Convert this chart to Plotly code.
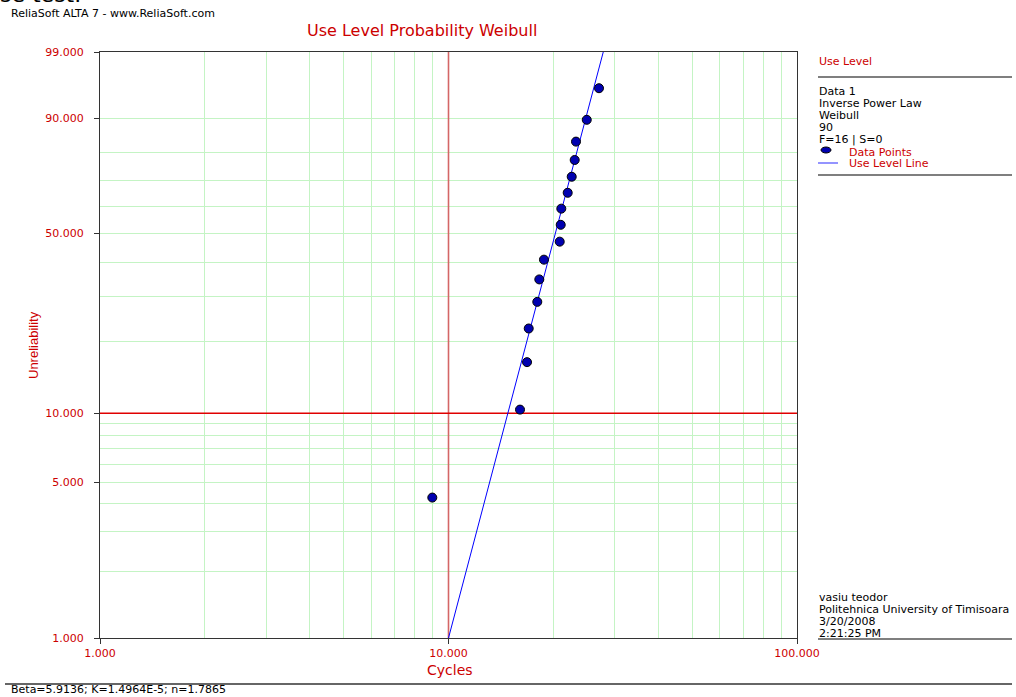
import math
import plotly.graph_objects as go

# ---- data ----
cycles = [8.985, 16.04, 16.80, 16.99, 17.98, 18.22, 18.79, 20.85,
          20.99, 21.07, 21.98, 22.57, 23.02, 23.22, 24.93, 27.03]
unreliability = [4.27, 10.37, 16.46, 22.56, 28.66, 34.76, 40.85, 46.95,
                 53.05, 59.15, 65.24, 71.34, 77.44, 83.54, 89.63, 95.73]
line_cycles = [10.0, 27.8]
line_unrel = [1.0, 99.0]

# use-level reference lines (10 cycles, 10 % unreliability)
ref_cycles = 10.0
ref_unrel = 10.0

y_ticks = [1, 5, 10, 50, 90, 99]
y_tick_text = ["1.000", "5.000", "10.000", "50.000", "90.000", "99.000"]
y_minor = [2, 3, 4, 6, 7, 8, 9, 20, 30, 40, 60, 70, 80]
x_ticks = [1, 10, 100]
x_tick_text = ["1.000", "10.000", "100.000"]
x_minor = [2, 3, 4, 5, 6, 7, 8, 9, 20, 30, 40, 50, 60, 70, 80, 90]

panel_lines = ["Data 1", "Inverse Power Law", "Weibull", "90", "F=16 | S=0"]
owner_lines = ["vasiu teodor", "Politehnica University of Timisoara", "3/20/2008", "2:21:25 PM"]


def wb(p):
    """Weibull probability scale transform (percent -> ln(-ln(1-F)))."""
    return math.log(-math.log(1 - p / 100.0))


RED = "#cc0000"
GREEN = "#c4f4c4"
FONT = "DejaVu Sans"

W, H = 1016, 697
L, R, T, B = 100, 797, 52, 638


def px(X):
    return (X - L) / (R - L)


def py(Y):
    return (B - Y) / (B - T)


fig = go.Figure()

# red reference lines as traces (under the data)
fig.add_trace(go.Scatter(
    x=[ref_cycles, ref_cycles], y=[wb(y_ticks[0]), wb(y_ticks[-1])], mode="lines",
    line=dict(color="#d46666", width=1.6), showlegend=False, hoverinfo="skip",
    cliponaxis=True))
fig.add_trace(go.Scatter(
    x=[x_ticks[0], x_ticks[-1]], y=[wb(ref_unrel), wb(ref_unrel)], mode="lines",
    line=dict(color="#e00000", width=1.3), showlegend=False, hoverinfo="skip"))

fig.add_trace(go.Scatter(
    x=line_cycles, y=[wb(v) for v in line_unrel], mode="lines",
    line=dict(color="#0000ff", width=1), showlegend=False, hoverinfo="skip"))

fig.add_trace(go.Scatter(
    x=cycles, y=[wb(v) for v in unreliability], mode="markers",
    marker=dict(symbol="circle", size=9, color="#0000b0",
                line=dict(color="#000000", width=1)),
    showlegend=False))

shapes = [
    # right panel separators
    dict(type="line", xref="paper", yref="paper", x0=px(818), x1=px(1012),
         y0=py(77), y1=py(77), line=dict(color="#555555", width=1.5)),
    dict(type="line", xref="paper", yref="paper", x0=px(818), x1=px(1012),
         y0=py(175), y1=py(175), line=dict(color="#555555", width=1.5)),
    dict(type="line", xref="paper", yref="paper", x0=px(818), x1=px(1012),
         y0=py(639), y1=py(639), line=dict(color="#555555", width=1.5)),
    dict(type="line", xref="paper", yref="paper", x0=px(5), x1=px(1012),
         y0=py(684), y1=py(684), line=dict(color="#333333", width=1.5)),
    # legend symbols
    dict(type="circle", xref="paper", yref="paper", x0=px(821), x1=px(831),
         y0=py(147), y1=py(153), fillcolor="#0000b0", line=dict(color="#000000", width=1)),
    dict(type="line", xref="paper", yref="paper", x0=px(818), x1=px(838),
         y0=py(163), y1=py(163), line=dict(color="#7070ff", width=1.5)),
]

annotations = []


def ann(text, X, Y, color="#000000", size=11, xanchor="left", yanchor="middle",
        family=FONT, textangle=0):
    annotations.append(dict(text=text, x=px(X), y=py(Y), xref="paper", yref="paper",
                            xanchor=xanchor, yanchor=yanchor, showarrow=False,
                            textangle=textangle,
                            font=dict(family=family, size=size, color=color)))


ann("se test.", -2, 9, size=22, yanchor="bottom")
ann("ReliaSoft ALTA 7 - www.ReliaSoft.com", 9, 14, size=11)
ann("Use Level Probability Weibull", 422, 30, color=RED, size=16, xanchor="center")
ann("Cycles", 450, 670, color=RED, size=14, xanchor="center")
ann("Unreliability", 33, 345, color=RED, size=13, xanchor="center",
    family="Liberation Sans", textangle=-90)
ann("Use Level", 817, 61, color=RED)
for i, t in enumerate(panel_lines):
    ann(t, 817, 91 + i * 12.2, size=11)
ann("Data Points", 847, 152, color=RED)
ann("Use Level Line", 847, 164, color=RED)
for i, t in enumerate(owner_lines):
    ann(t, 817, 597 + i * 12, size=11)
ann("Beta=5.9136; K=1.4964E-5; n=1.7865", 9, 689, size=11)

fig.update_layout(
    width=W, height=H,
    margin=dict(l=L, r=W - R, t=T, b=H - B, autoexpand=False),
    paper_bgcolor="white", plot_bgcolor="white",
    shapes=shapes, annotations=annotations,
    xaxis=dict(type="log", range=[0, 2], tickmode="array", tickvals=x_ticks,
               ticktext=x_tick_text, showgrid=True, gridcolor=GREEN, gridwidth=1,
               minor=dict(tickmode="array", tickvals=x_minor, showgrid=True,
                          gridcolor=GREEN, gridwidth=1, ticks=""),
               ticks="outside", ticklen=5, tickcolor="#333333",
               showline=True, linecolor="#333333", linewidth=1, mirror=True,
               zeroline=False,
               tickfont=dict(family=FONT, size=11, color=RED)),
    yaxis=dict(range=[wb(1), wb(99)], tickmode="array",
               tickvals=[wb(v) for v in y_ticks], ticktext=y_tick_text,
               showgrid=True, gridcolor=GREEN, gridwidth=1,
               minor=dict(tickmode="array", tickvals=[wb(v) for v in y_minor],
                          showgrid=True, gridcolor=GREEN, gridwidth=1, ticks=""),
               ticks="outside", ticklen=5, tickcolor="#333333",
               ticklabelstandoff=8,
               showline=True, linecolor="#333333", linewidth=1, mirror=True,
               zeroline=False,
               tickfont=dict(family=FONT, size=11, color=RED)),
)

fig.write_html(
    "out.html",
    config={"displayModeBar": False},
    post_script="document.body.style.margin='0';document.body.style.overflow='hidden';",
)
